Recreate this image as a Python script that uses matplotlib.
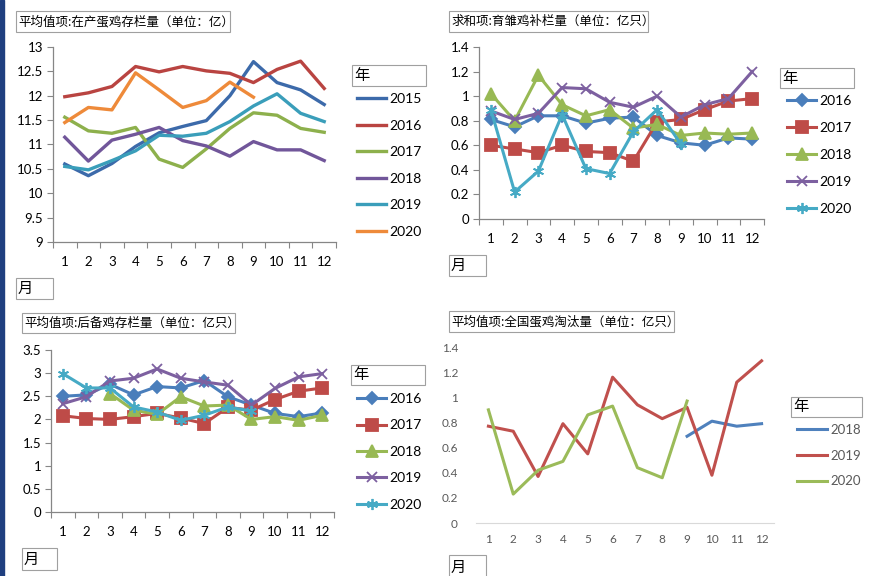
import numpy as np
import matplotlib
matplotlib.use('Agg')
import matplotlib.pyplot as plt
from matplotlib.patches import Rectangle

plt.rcParams['font.family'] = ['Lato', 'Noto Sans CJK SC', 'DejaVu Sans']

nan = np.nan
months = list(range(1, 13))

# chart 1: 在产蛋鸡存栏量 (亿)
c1_years = ['2015', '2016', '2017', '2018', '2019', '2020']
c1_2015 = [10.60, 10.36, 10.61, 10.96, 11.24, 11.37, 11.49, 12.00, 12.70, 12.27, 12.12, 11.82]
c1_2016 = [11.98, 12.06, 12.19, 12.60, 12.49, 12.60, 12.51, 12.46, 12.27, 12.54, 12.71, 12.15]
c1_2017 = [11.56, 11.28, 11.23, 11.35, 10.70, 10.53, 10.91, 11.33, 11.65, 11.60, 11.33, 11.25]
c1_2018 = [11.15, 10.66, 11.09, 11.21, 11.35, 11.08, 10.97, 10.76, 11.06, 10.89, 10.89, 10.67]
c1_2019 = [10.55, 10.48, 10.67, 10.87, 11.19, 11.17, 11.23, 11.47, 11.79, 12.04, 11.64, 11.47]
c1_2020 = [11.45, 11.76, 11.71, 12.47, 12.12, 11.76, 11.90, 12.28, 11.97, nan, nan, nan]

# chart 2: 育雏鸡补栏量 (亿只)
c2_years = ['2016', '2017', '2018', '2019', '2020']
c2_2016 = [0.81, 0.75, 0.84, 0.84, 0.78, 0.82, 0.83, 0.68, 0.62, 0.60, 0.66, 0.65]
c2_2017 = [0.60, 0.57, 0.54, 0.60, 0.55, 0.54, 0.47, 0.79, 0.81, 0.89, 0.96, 0.98]
c2_2018 = [1.02, 0.80, 1.17, 0.93, 0.84, 0.89, 0.74, 0.77, 0.68, 0.70, 0.69, 0.70]
c2_2019 = [0.88, 0.81, 0.86, 1.07, 1.06, 0.95, 0.91, 1.00, 0.83, 0.93, 0.98, 1.20]
c2_2020 = [0.89, 0.22, 0.39, 0.85, 0.41, 0.37, 0.71, 0.89, 0.61, nan, nan, nan]

# chart 3: 后备鸡存栏量 (亿只)
c3_years = ['2016', '2017', '2018', '2019', '2020']
c3_2016 = [2.50, 2.53, 2.76, 2.53, 2.71, 2.68, 2.84, 2.49, 2.31, 2.13, 2.06, 2.14]
c3_2017 = [2.08, 2.02, 2.00, 2.06, 2.13, 2.03, 1.91, 2.26, 2.20, 2.43, 2.61, 2.68]
c3_2018 = [nan, nan, 2.56, 2.20, 2.11, 2.49, 2.29, 2.31, 2.00, 2.06, 1.98, 2.09]
c3_2019 = [2.34, 2.49, 2.83, 2.89, 3.09, 2.89, 2.81, 2.74, 2.31, 2.67, 2.92, 2.99]
c3_2020 = [2.99, 2.68, 2.68, 2.27, 2.16, 1.98, 2.09, 2.27, 2.18, nan, nan, nan]

# chart 4: 全国蛋鸡淘汰量 (亿只)
c4_years = ['2018', '2019', '2020']
c4_2018 = [nan, nan, nan, nan, nan, nan, nan, nan, 0.69, 0.81, 0.77, 0.79]
c4_2019 = [0.77, 0.73, 0.37, 0.79, 0.55, 1.16, 0.94, 0.83, 0.92, 0.38, 1.12, 1.29]
c4_2020 = [0.90, 0.23, 0.42, 0.49, 0.86, 0.93, 0.44, 0.36, 0.97, nan, nan, nan]

W, H = 871, 576
fig = plt.figure(figsize=(W / 100, H / 100), dpi=100)

# dark bar on the left edge
fig.patches.append(Rectangle((0, 0), 4 / W, 1, transform=fig.transFigure,
                             color='#1F3F7F', zorder=0))


def px_axes(l, t, r, b):
    return fig.add_axes([l / W, 1 - b / H, (r - l) / W, (b - t) / H])


def box_text(l, t, r, b, txt, size=9, color='black'):
    fig.patches.append(Rectangle((l / W, 1 - b / H), (r - l) / W, (b - t) / H,
                                 transform=fig.transFigure, fill=False,
                                 edgecolor='#A0A0A0', lw=0.8))
    fig.text((l + 2) / W, 1 - (t + b) / 2 / H, txt, fontsize=size, color=color,
             va='center', ha='left', family=['Noto Sans CJK SC', 'DejaVu Sans'])


def style_cat_axes(ax):
    ax.set_xlim(0.5, 12.5)
    for s in ['top', 'right']:
        ax.spines[s].set_visible(False)
    for s in ['left', 'bottom']:
        ax.spines[s].set_color('#868686')
        ax.spines[s].set_linewidth(0.9)
    ax.set_xticks(np.arange(0.5, 13, 1))
    ax.set_xticklabels([])
    ax.set_xticks(months, minor=True)
    ax.set_xticklabels([str(m) for m in months], minor=True)
    ax.tick_params(axis='x', which='major', length=4, color='#868686', direction='out')
    ax.tick_params(axis='x', which='minor', length=0, pad=10, labelsize=9.5)
    ax.tick_params(axis='y', length=4, color='#868686', labelsize=9.5, pad=3)
    ax.patch.set_alpha(0)


def add_legend(handles, labels, x, y, size=10, spacing=0.9, color='black', hl=2.1):
    leg = fig.legend(handles, labels, loc='upper left',
                     bbox_to_anchor=(x / W, 1 - y / H), frameon=False,
                     fontsize=size, handlelength=hl, handletextpad=0.25,
                     labelspacing=spacing, borderpad=0, borderaxespad=0)
    for t in leg.get_texts():
        t.set_color(color)
    return leg


# ---------- chart 1 ----------
ax1 = px_axes(53, 47, 336, 242)
cols1 = ['#3C6AAA', '#B94441', '#8DB04C', '#71569A', '#3A9EBA', '#EE8A3A']
h1 = []
for yr, vals, c in zip(c1_years, [c1_2015, c1_2016, c1_2017, c1_2018, c1_2019, c1_2020], cols1):
    ln, = ax1.plot(months, vals, color=c, lw=2.4, solid_joinstyle='round')
    h1.append(ln)
style_cat_axes(ax1)
ax1.set_ylim(9, 13)
ax1.set_yticks(np.arange(9, 13.01, 0.5))
ax1.set_yticklabels(['9', '9.5', '10', '10.5', '11', '11.5', '12', '12.5', '13'])
box_text(16, 11, 230, 32, '平均值项:在产蛋鸡存栏量（单位：亿）', size=9)
box_text(352, 65, 426, 86, '年', size=11)
box_text(16, 278, 53, 299, '月', size=11)
add_legend(h1, c1_years, 357, 93, spacing=1.05)

# ---------- chart 2 ----------
ax2 = px_axes(479, 47, 764, 219)
cols2 = ['#4A7EBB', '#BE4B48', '#98B954', '#7D60A0', '#46AAC5']
mk = ['D', 's', '^', 'x', (6, 2, 0)]
ms = [6, 8, 8, 7, 8]
h2 = []
for yr, vals, c, m, s in zip(c2_years, [c2_2016, c2_2017, c2_2018, c2_2019, c2_2020], cols2, mk, ms):
    ln, = ax2.plot(months, vals, color=c, lw=2.2, marker=m, markersize=s,
                   markeredgewidth=1.3, markeredgecolor=c)
    h2.append(ln)
style_cat_axes(ax2)
ax2.set_ylim(0, 1.4)
ax2.set_yticks(np.arange(0, 1.41, 0.2))
ax2.set_yticklabels(['0', '0.2', '0.4', '0.6', '0.8', '1', '1.2', '1.4'])
box_text(449, 11, 648, 32, '求和项:育雏鸡补栏量（单位：亿只）', size=9)
box_text(780, 68, 854, 88, '年', size=11)
box_text(449, 255, 486, 276, '月', size=11)
add_legend(h2, c2_years, 787, 95, spacing=1.08)

# ---------- chart 3 ----------
ax3 = px_axes(51, 350, 334, 512)
h3 = []
for yr, vals, c, m, s in zip(c3_years, [c3_2016, c3_2017, c3_2018, c3_2019, c3_2020], cols2, mk, ms):
    ln, = ax3.plot(months, vals, color=c, lw=2.2, marker=m, markersize=s,
                   markeredgewidth=1.3, markeredgecolor=c)
    h3.append(ln)
style_cat_axes(ax3)
ax3.set_ylim(0, 3.5)
ax3.set_yticks(np.arange(0, 3.51, 0.5))
ax3.set_yticklabels(['0', '0.5', '1', '1.5', '2', '2.5', '3', '3.5'])
box_text(22, 313, 235, 333, '平均值项:后备鸡存栏量（单位：亿只）', size=9)
box_text(351, 365, 425, 385, '年', size=11)
box_text(22, 548, 57, 570, '月', size=11)
add_legend(h3, c3_years, 357, 393, spacing=1.04)

# ---------- chart 4 ----------
ax4 = px_axes(476, 347, 774, 523)
cols4 = ['#4F81BD', '#C0504D', '#9BBB59']
h4 = []
for yr, vals, c in zip(c4_years, [c4_2018, c4_2019, c4_2020], cols4):
    ln, = ax4.plot(months, vals, color=c, lw=2.2)
    h4.append(ln)
ax4.set_xlim(0.5, 12.5)
ax4.set_ylim(0, 1.4)
for s in ['top', 'right', 'left']:
    ax4.spines[s].set_visible(False)
ax4.spines['bottom'].set_color('#D9D9D9')
ax4.set_xticks(months)
ax4.set_yticks(np.arange(0, 1.41, 0.2))
ax4.set_yticklabels(['0', '0.2', '0.4', '0.6', '0.8', '1', '1.2', '1.4'])
ax4.tick_params(length=0, labelsize=8.5, labelcolor='#595959', pad=8)
ax4.tick_params(axis='y', pad=13)
ax4.patch.set_alpha(0)
box_text(449, 311, 674, 332, '平均值项:全国蛋鸡淘汰量（单位：亿只）', size=9)
box_text(791, 397, 862, 417, '年', size=11)
box_text(449, 555, 486, 580, '月', size=11)
add_legend(h4, c4_years, 797, 424, size=9.5, spacing=1.03, color='#595959', hl=2.3)

fig.savefig('out.png', dpi=100)
